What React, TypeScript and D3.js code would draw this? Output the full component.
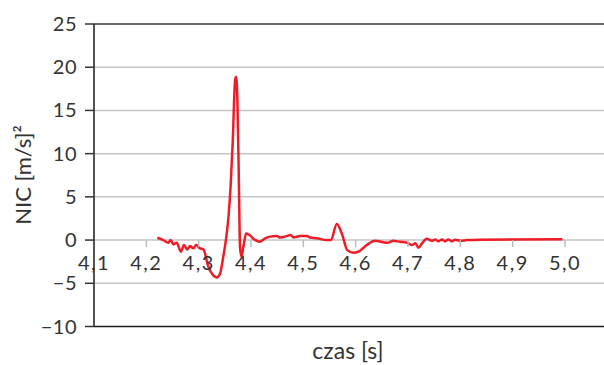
import { useEffect, useRef } from 'react';
import * as d3 from 'd3';

// czas [s]
const czas = [
    4.221, 4.2325, 4.242, 4.2466, 4.2517, 4.258, 4.266, 4.272, 4.278, 4.2835,
    4.290, 4.295, 4.3027, 4.309, 4.3186, 4.325, 4.3346, 4.341, 4.347, 4.352,
    4.357, 4.361, 4.365, 4.3696, 4.3715, 4.374, 4.3767, 4.379, 4.3817, 4.3855,
    4.3906, 4.397, 4.408, 4.416, 4.427, 4.4365, 4.449, 4.456, 4.468, 4.476,
    4.481, 4.494, 4.507, 4.513, 4.526, 4.545, 4.5525, 4.564, 4.5735, 4.584,
    4.596, 4.605, 4.621, 4.637, 4.66, 4.672, 4.685, 4.698, 4.707, 4.714,
    4.72, 4.7266, 4.736, 4.7457, 4.752, 4.758, 4.765, 4.771, 4.777, 4.784,
    4.79, 4.80, 4.813, 4.838, 4.995
];
// NIC [m/s]^2
const nic = [
    0.27, 0.0, -0.3, 0.0, -0.5, -0.3, -1.35, -0.58, -1.08, -0.7,
    -0.96, -0.58, -0.96, -1.08, -3.09, -3.86, -4.32, -3.86, -1.93, 0.0,
    2.7, 6.2, 11.2, 18.5, 18.9, 16.2, 7.3, -0.77, -1.93, -0.77,
    0.77, 0.58, 0.0, -0.2, 0.2, 0.4, 0.46, 0.3, 0.46, 0.58,
    0.3, 0.46, 0.46, 0.3, 0.2, 0.0, 0.0, 1.85, 0.77, -1.16,
    -1.47, -1.35, -0.58, -0.08, -0.31, -0.08, -0.2, -0.3, -0.58, -0.38,
    -0.89, -0.38, 0.15, -0.08, 0.08, -0.15, 0.08, -0.15, 0.08, -0.15,
    0.04, -0.08, 0.0, 0.04, 0.1
];
const xTicks = [4.1, 4.2, 4.3, 4.4, 4.5, 4.6, 4.7, 4.8, 4.9, 5.0];
const yTicks = [-10, -5, 0, 5, 10, 15, 20, 25];

const width = 604;
const height = 365;

export default function App() {
    const svgRef = useRef<SVGSVGElement>(null);

    useEffect(() => {
        if (!svgRef.current) return;
        const svg = d3.select(svgRef.current);
        svg.selectAll("*").remove();

        const left = 94, right = 604, top = 24, bottom = 326.5;
        const font = "Lato, 'Open Sans', sans-serif";

        const x = d3.scaleLinear().domain([4.1, 5.0]).range([left, 565]);
        const y = d3.scaleLinear().domain([-10, 25]).range([bottom, top]);
        const fmt = (v: number) => v.toFixed(1).replace(".", ",");

        // siatka
        svg.append("g")
            .selectAll("line")
            .data(yTicks.filter(t => t !== -10))
            .enter()
            .append("line")
            .attr("x1", left).attr("x2", right)
            .attr("y1", d => y(d)).attr("y2", d => y(d))
            .attr("stroke", d => d === 25 ? "#6a6a6a" : "#c4c4c4")
            .attr("stroke-width", d => d === 25 ? 2 : 1.5);

        // linia danych
        const pts = czas.map((t, i) => [t, nic[i]] as [number, number]);
        const line = d3.line<[number, number]>()
            .x(d => x(d[0]))
            .y(d => y(d[1]))
            .curve(d3.curveMonotoneX);
        svg.append("path")
            .datum(pts)
            .attr("fill", "none")
            .attr("stroke", "#ee1c25")
            .attr("stroke-width", 2.5)
            .attr("stroke-linejoin", "round")
            .attr("d", line);

        // osie
        svg.append("line")
            .attr("x1", left).attr("x2", left)
            .attr("y1", top).attr("y2", bottom)
            .attr("stroke", "#1a1a1a").attr("stroke-width", 1.5);
        svg.append("line")
            .attr("x1", left).attr("x2", right)
            .attr("y1", bottom).attr("y2", bottom)
            .attr("stroke", "#1a1a1a").attr("stroke-width", 1.5);

        const yAx = svg.append("g");
        yAx.selectAll("line")
            .data(yTicks)
            .enter()
            .append("line")
            .attr("x1", left - 9).attr("x2", left)
            .attr("y1", d => y(d)).attr("y2", d => y(d))
            .attr("stroke", "#333").attr("stroke-width", 1.5);
        yAx.selectAll("text")
            .data(yTicks)
            .enter()
            .append("text")
            .attr("x", 77)
            .attr("y", d => y(d) + 7)
            .attr("text-anchor", "end")
            .style("font-family", font)
            .style("font-size", "20px")
            .style("letter-spacing", "0.5px")
            .style("fill", "#333")
            .text(d => d < 0 ? "\u2212" + Math.abs(d) : String(d));

        // os X (ticki na linii zera)
        const xAx = svg.append("g");
        xAx.selectAll("line")
            .data(xTicks.slice(1))
            .enter()
            .append("line")
            .attr("x1", d => x(d)).attr("x2", d => x(d))
            .attr("y1", y(0)).attr("y2", y(0) + 7)
            .attr("stroke", "#bbbbbb").attr("stroke-width", 1.5);
        xAx.selectAll("text")
            .data(xTicks)
            .enter()
            .append("text")
            .attr("x", d => x(d))
            .attr("y", 270)
            .attr("text-anchor", "middle")
            .style("font-family", font)
            .style("font-size", "20px")
            .style("letter-spacing", "1.5px")
            .style("fill", "#333")
            .text(d => fmt(d));

        // tytuly osi
        svg.append("text")
            .attr("x", 348)
            .attr("y", 359)
            .attr("text-anchor", "middle")
            .style("font-family", font)
            .style("font-size", "23px")
            .style("fill", "#333")
            .text("czas [s]");
        svg.append("text")
            .attr("transform", "translate(31,175) rotate(-90)")
            .attr("text-anchor", "middle")
            .style("font-family", font)
            .style("font-size", "22px")
            .style("fill", "#333")
            .text("NIC [m/s]\u00B2");
    }, []);

    return (
        <svg
            ref={svgRef}
            width={width}
            height={height}
            style={{ position: "absolute", left: 0, top: 0, background: "#fff" }}
        />
    );
}
